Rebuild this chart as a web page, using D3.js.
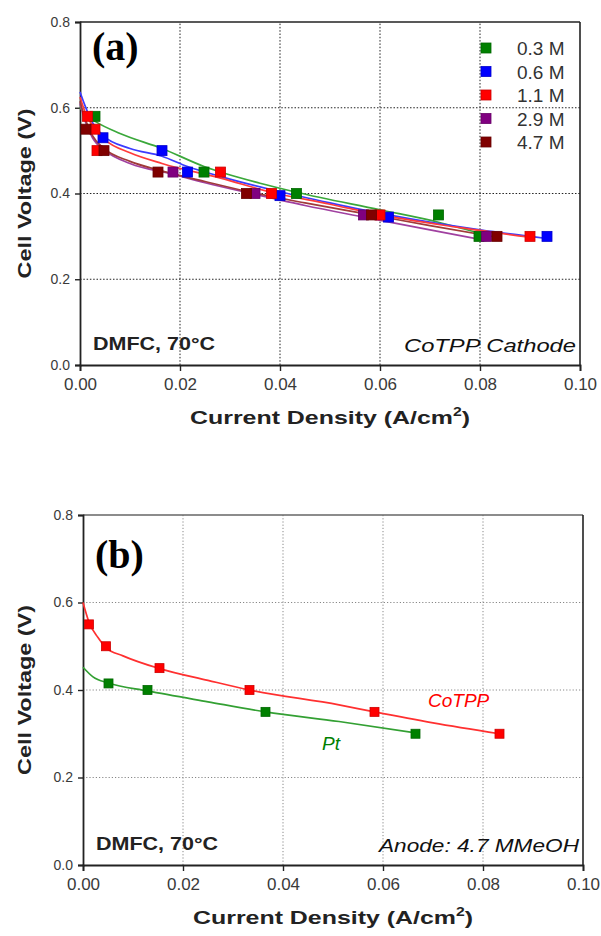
<!DOCTYPE html>
<html>
<head>
<meta charset="utf-8">
<script src="https://cdn.jsdelivr.net/npm/d3@7/dist/d3.min.js"></script>
<style>
  html, body { margin: 0; padding: 0; background: #fff; }
  svg { display: block; font-family: Arial, "Liberation Sans", sans-serif; }
</style>
</head>
<body>
<svg id="chart" width="601" height="936"></svg>
<script>
// ---------- shared axis setup ----------
const xTicks = [0, 0.02, 0.04, 0.06, 0.08, 0.10];
const yTicks = [0, 0.2, 0.4, 0.6, 0.8];
const xGrid = [0.02, 0.04, 0.06, 0.08];
const yGrid = [0.2, 0.4, 0.6];

// ---------- panel (a): methanol concentration series ----------
const concLabels = ["0.3 M", "0.6 M", "1.1 M", "2.9 M", "4.7 M"];
const concColors = ["#008000", "#0000ff", "#ff0000", "#800080", "#800000"];
const concLineColors = ["#3aa83a", "#3b3bff", "#ff3b3b", "#a040a0", "#a03a3a"];

// measured points (current density A/cm2, cell voltage V)
const i03 = [0.003, 0.0248, 0.0433, 0.0717, 0.0798];
const v03 = [0.58, 0.45, 0.40, 0.35, 0.30];
const i06 = [0.0046, 0.0164, 0.0215, 0.040, 0.0617, 0.0934];
const v06 = [0.53, 0.50, 0.45, 0.395, 0.345, 0.30];
const i11 = [0.0015, 0.003, 0.0034, 0.0281, 0.0383, 0.060, 0.090];
const v11 = [0.58, 0.55, 0.50, 0.45, 0.40, 0.35, 0.30];
const i29 = [0.0186, 0.035, 0.0567, 0.0813];
const v29 = [0.45, 0.40, 0.35, 0.30];
const i47 = [0.0012, 0.0048, 0.0156, 0.0333, 0.0583, 0.0834];
const v47 = [0.55, 0.50, 0.45, 0.40, 0.35, 0.30];

// fitted polarization curves
const fitI03 = [0, 0.001, 0.0032, 0.008, 0.0164, 0.0248, 0.036, 0.0433, 0.06, 0.0717, 0.080];
const fitV03 = [0.60, 0.585, 0.567, 0.54, 0.505, 0.463, 0.424, 0.403, 0.362, 0.333, 0.307];
const fitI06 = [0, 0.001, 0.0025, 0.0046, 0.010, 0.0164, 0.0215, 0.028, 0.040, 0.050, 0.0617, 0.080, 0.0934];
const fitV06 = [0.637, 0.605, 0.565, 0.535, 0.505, 0.487, 0.463, 0.44, 0.404, 0.378, 0.35, 0.315, 0.295];
const fitI11 = [0, 0.001, 0.003, 0.005, 0.010, 0.0164, 0.0281, 0.0383, 0.050, 0.060, 0.075, 0.090];
const fitV11 = [0.625, 0.59, 0.55, 0.525, 0.495, 0.47, 0.436, 0.403, 0.375, 0.35, 0.322, 0.298];
const fitI29 = [0, 0.001, 0.0025, 0.005, 0.010, 0.0186, 0.025, 0.035, 0.045, 0.0567, 0.070, 0.0813];
const fitV29 = [0.61, 0.57, 0.53, 0.50, 0.47, 0.445, 0.425, 0.398, 0.372, 0.345, 0.315, 0.29];
const fitI47 = [0, 0.001, 0.0025, 0.0048, 0.010, 0.0156, 0.025, 0.0333, 0.045, 0.0583, 0.070, 0.0834];
const fitV47 = [0.615, 0.575, 0.535, 0.505, 0.475, 0.455, 0.428, 0.405, 0.378, 0.35, 0.325, 0.298];

// ---------- panel (b): cathode catalyst comparison ----------
const catLabels = ["CoTPP", "Pt"];
const catColors = ["#ff0000", "#008000"];
const catLineColors = ["#ff3030", "#33a033"];
const iCo = [0.0012, 0.0046, 0.0153, 0.0333, 0.0583, 0.0833];
const vCo = [0.55, 0.50, 0.45, 0.40, 0.35, 0.30];
const iPt = [0.0051, 0.0129, 0.0365, 0.0665];
const vPt = [0.415, 0.40, 0.35, 0.30];
const fitICo = [0, 0.0012, 0.003, 0.0046, 0.008, 0.0153, 0.025, 0.0333, 0.0512, 0.0583, 0.070, 0.0833];
const fitVCo = [0.60, 0.555, 0.52, 0.497, 0.478, 0.449, 0.422, 0.40, 0.366, 0.35, 0.325, 0.30];
const fitIPt = [0, 0.002, 0.0051, 0.0129, 0.025, 0.0365, 0.0512, 0.0665];
const fitVPt = [0.452, 0.43, 0.416, 0.398, 0.373, 0.35, 0.328, 0.302];

const zip = (xs, ys) => xs.map((x, k) => [x, ys[k]]);
const SANS = "Arial, 'Liberation Sans', sans-serif";

const svg = d3.select("#chart");

function drawPanel(cfg) {
  const x = d3.scaleLinear().domain([0, 0.1]).range([cfg.left, cfg.right]);
  const y = d3.scaleLinear().domain([0, 0.8]).range([cfg.bottom, cfg.top]);
  const g = svg.append("g");

  // dotted grid
  g.selectAll(".gx").data(xGrid).join("line")
    .attr("x1", d => x(d)).attr("x2", d => x(d))
    .attr("y1", y(0)).attr("y2", y(0.8))
    .attr("stroke", cfg.gridColor).attr("stroke-width", 1)
    .attr("stroke-dasharray", cfg.gridDash);
  g.selectAll(".gy").data(yGrid).join("line")
    .attr("x1", x(0)).attr("x2", x(0.1))
    .attr("y1", d => y(d)).attr("y2", d => y(d))
    .attr("stroke", cfg.gridColor).attr("stroke-width", 1)
    .attr("stroke-dasharray", cfg.gridDash);

  // top and right frame
  g.append("line").attr("x1", x(0)).attr("x2", x(0.1)).attr("y1", y(0.8)).attr("y2", y(0.8))
    .attr("stroke", cfg.topColor).attr("stroke-width", 1.6);
  g.append("line").attr("x1", x(0.1)).attr("x2", x(0.1)).attr("y1", y(0)).attr("y2", y(0.8))
    .attr("stroke", "#222").attr("stroke-width", 1.6);

  // axes
  const ax = g.append("g").attr("transform", `translate(0,${y(0)})`)
    .call(d3.axisBottom(x).tickValues(xTicks).tickFormat(d3.format(".2f")).tickSize(6).tickPadding(7));
  ax.selectAll("text").style("font-size", "17px").style("font-family", SANS).attr("fill", "#3a3a3a");
  const ay = g.append("g").attr("transform", `translate(${x(0)},0)`)
    .call(d3.axisLeft(y).tickValues(yTicks).tickFormat(d3.format(".1f")).tickSize(5).tickPadding(5));
  ay.selectAll("text").style("font-size", "14px").style("font-family", SANS).attr("fill", "#3a3a3a");
  [ax, ay].forEach(a => {
    a.select(".domain").attr("stroke", "#222").attr("stroke-width", 1.8);
    a.selectAll(".tick line").attr("stroke", "#222").attr("stroke-width", 1.4);
  });

  // fitted curves
  const line = d3.line().x(d => x(d[0])).y(d => y(d[1])).curve(d3.curveMonotoneX);
  cfg.fits.forEach((f, k) => {
    g.append("path").datum(f).attr("d", line)
      .attr("fill", "none").attr("stroke", cfg.lineColors[k]).attr("stroke-width", 1.7);
  });

  // measured markers
  const s = cfg.markerSize;
  cfg.points.forEach((pts, k) => {
    g.selectAll(null).data(pts).join("rect")
      .attr("x", d => x(d[0]) - s / 2).attr("y", d => y(d[1]) - s / 2)
      .attr("width", s).attr("height", s)
      .attr("fill", cfg.colors[k]).attr("stroke", d3.color(cfg.colors[k]).darker(0.6)).attr("stroke-width", 0.8);
  });

  // axis titles
  g.append("text").attr("x", (cfg.left + cfg.right) / 2).attr("y", cfg.bottom + 59)
    .attr("text-anchor", "middle").attr("font-size", 19).attr("font-weight", "bold").attr("fill", "#222")
    .attr("textLength", 280).attr("lengthAdjust", "spacingAndGlyphs")
    .html('Current Density (A/cm<tspan dy="-8" font-size="12">2</tspan><tspan dy="8">)</tspan>');
  g.append("text")
    .attr("transform", `translate(31,${(cfg.top + cfg.bottom) / 2}) rotate(-90)`)
    .attr("text-anchor", "middle").attr("font-size", 19).attr("font-weight", "bold").attr("fill", "#222")
    .attr("textLength", 170).attr("lengthAdjust", "spacingAndGlyphs")
    .text("Cell Voltage (V)");

  // panel letter
  g.append("text").attr("x", cfg.left + 12).attr("y", cfg.letterY)
    .style("font-family", "'Liberation Serif', 'Times New Roman', 'DejaVu Serif', serif")
    .attr("font-size", 40).attr("font-weight", "bold").attr("fill", "#000")
    .text(cfg.letter);

  // condition notes
  g.append("text").attr("x", cfg.left + 13).attr("y", cfg.bottom - 15)
    .attr("font-size", 18).attr("font-weight", "bold").attr("fill", "#222")
    .attr("textLength", 122).attr("lengthAdjust", "spacingAndGlyphs")
    .text("DMFC, 70°C");
  g.append("text").attr("x", cfg.right - 4).attr("y", cfg.bottom - 13)
    .attr("text-anchor", "end").attr("font-size", 18).attr("font-style", "italic").attr("fill", "#111")
    .attr("textLength", cfg.noteWidth).attr("lengthAdjust", "spacingAndGlyphs")
    .text(cfg.note);

  return { g, x, y };
}

// ---------- panel (a) ----------
const pa = drawPanel({
  left: 80, right: 580, top: 22, bottom: 365,
  gridColor: "#222", gridDash: "1.5,1.8", topColor: "#222",
  fits: [zip(fitI03, fitV03), zip(fitI06, fitV06), zip(fitI11, fitV11), zip(fitI29, fitV29), zip(fitI47, fitV47)],
  points: [zip(i03, v03), zip(i06, v06), zip(i11, v11), zip(i29, v29), zip(i47, v47)],
  colors: concColors, lineColors: concLineColors, markerSize: 10,
  letter: "(a)", letterY: 60,
  note: "CoTPP Cathode", noteWidth: 172
});

// legend
const leg = pa.g.append("g");
concLabels.forEach((lab, k) => {
  const cy = 48 + k * 23.5;
  leg.append("rect").attr("x", 481).attr("y", cy - 5).attr("width", 10).attr("height", 10)
    .attr("fill", concColors[k]).attr("stroke", d3.color(concColors[k]).darker(0.6)).attr("stroke-width", 0.8);
  leg.append("text").attr("x", 517).attr("y", cy + 7)
    .attr("font-size", 19).attr("fill", "#333").text(lab);
});

// ---------- panel (b) ----------
const pb = drawPanel({
  left: 83, right: 583, top: 515, bottom: 865,
  gridColor: "#888", gridDash: "1.2,2", topColor: "#666",
  fits: [zip(fitICo, fitVCo), zip(fitIPt, fitVPt)],
  points: [zip(iCo, vCo), zip(iPt, vPt)],
  colors: catColors, lineColors: catLineColors, markerSize: 9,
  letter: "(b)", letterY: 568,
  note: "Anode: 4.7 MMeOH", noteWidth: 200
});

// curve labels
pb.g.append("text").attr("x", pb.x(0.069)).attr("y", pb.y(0.361))
  .attr("font-size", 19).attr("font-style", "italic").attr("fill", catColors[0]).text(catLabels[0]);
pb.g.append("text").attr("x", pb.x(0.0478)).attr("y", pb.y(0.263))
  .attr("font-size", 19).attr("font-style", "italic").attr("fill", catColors[1]).text(catLabels[1]);
</script>
</body>
</html>
